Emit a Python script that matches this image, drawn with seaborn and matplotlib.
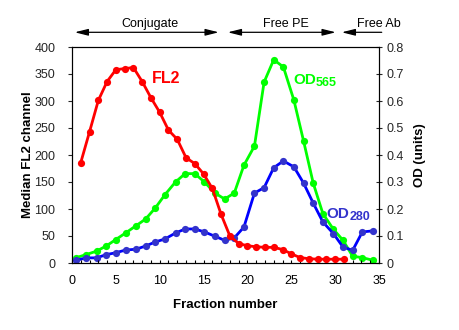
import matplotlib
matplotlib.use("Agg")
import matplotlib.pyplot as plt
import matplotlib.transforms as mtransforms
import seaborn as sns
import pandas as pd

# Flow cytometry signal (median FL2 channel) per collected fraction
fl2_fraction = [1, 2, 3, 4, 5, 6, 7, 8, 9, 10, 11, 12, 13, 14, 15, 16,
                17, 18, 19, 20, 21, 22, 23, 24, 25, 26, 27, 28, 29, 30, 31]
fl2_median = [186, 243, 301, 336, 358, 360, 362, 336, 306, 279, 246, 229,
              195, 184, 165, 138, 90, 50, 36, 32, 30, 29, 29, 25, 17, 10,
              8, 7, 7, 7, 7]

# Optical density readings (right axis)
od_fraction = [0.5, 1.6, 2.8, 3.9, 5.0, 6.1, 7.3, 8.4, 9.5, 10.6, 11.8,
               12.9, 14.0, 15.1, 16.3, 17.4, 18.5, 19.6, 20.8, 21.9, 23.0,
               24.1, 25.3, 26.4, 27.5, 28.6, 29.8, 30.9, 32.0, 33.1, 34.3]
od565 = [0.020, 0.031, 0.044, 0.063, 0.087, 0.111, 0.138, 0.163, 0.204,
         0.253, 0.300, 0.331, 0.331, 0.300, 0.259, 0.237, 0.259, 0.362,
         0.433, 0.670, 0.753, 0.726, 0.603, 0.452, 0.296, 0.183, 0.125,
         0.084, 0.025, 0.020, 0.010]
od280 = [0.010, 0.019, 0.019, 0.031, 0.038, 0.048, 0.051, 0.063, 0.078,
         0.089, 0.111, 0.126, 0.126, 0.115, 0.099, 0.084, 0.093, 0.133,
         0.259, 0.279, 0.353, 0.378, 0.356, 0.296, 0.222, 0.152, 0.109,
         0.059, 0.047, 0.115, 0.119]

left_ticks = [0, 50, 100, 150, 200, 250, 300, 350, 400]
right_ticks = [0, 0.1, 0.2, 0.3, 0.4, 0.5, 0.6, 0.7, 0.8]
right_tick_labels = ["0", "0.1", "0.2", "0.3", "0.4", "0.5", "0.6", "0.7", "0.8"]
x_ticks = [0, 5, 10, 15, 20, 25, 30, 35]

# Elution regions marked above the plot: (label, start, end)
regions = [("Conjugate", 0.31, 16.73), ("Free PE", 17.76, 30.07), ("Free Ab", 30.75, 35.31)]

sns.set_theme(style="white")
plt.rcParams["font.family"] = ["Liberation Sans", "DejaVu Sans"]

RED = "#FF0000"
GREEN = "#00FF00"
BLUE_LINE = "#0000FF"
BLUE_MARK = "#3333CC"

fig = plt.figure(figsize=(4.59, 3.3), dpi=100)
W, H = 459, 330
ax = fig.add_axes([72 / W, 67 / H, 307 / W, 216 / H])
ax2 = ax.twinx()

fl2_df = pd.DataFrame({"fraction": fl2_fraction, "fl2": fl2_median})
od_df = pd.DataFrame({"fraction": od_fraction, "od565": od565, "od280": od280})

line_kw = dict(marker="o", markersize=5.2, markeredgewidth=0, linewidth=2)
sns.lineplot(data=od_df, x="fraction", y="od565", ax=ax2, color=GREEN,
             markerfacecolor=GREEN, **line_kw)
sns.lineplot(data=od_df, x="fraction", y="od280", ax=ax2, color=BLUE_LINE,
             markerfacecolor=BLUE_MARK, **line_kw)
sns.lineplot(data=fl2_df, x="fraction", y="fl2", ax=ax, color=RED,
             markerfacecolor=RED, **line_kw)

# Keep the FL2 trace in front of the OD traces
ax.set_zorder(ax2.get_zorder() + 1)
ax.patch.set_visible(False)

ax.set_xlim(0, 35)
ax.set_ylim(0, 400)
ax2.set_ylim(0, 0.8)

ax.set_xticks(x_ticks)
ax.set_xticks(range(0, 36), minor=True)
ax.set_yticks(left_ticks)
ax2.set_yticks(right_ticks)
ax2.set_yticklabels(right_tick_labels)

tick_font = 9
ax.tick_params(axis="x", which="both", direction="in", length=2.5, width=0.8,
               labelsize=tick_font, pad=9, bottom=True, colors="black")
ax.tick_params(axis="y", which="both", direction="out", length=3, width=0.8,
               labelsize=tick_font, pad=9, left=True)
ax2.tick_params(axis="y", direction="inout", length=5, width=0.8,
                labelsize=tick_font, pad=3, right=True)

for a in (ax, ax2):
    for s in a.spines.values():
        s.set_color("black")
        s.set_linewidth(0.8)
    a.grid(False)

label_kw = dict(fontsize=9.5, fontweight="bold", color="black")
ax.set_xlabel("Fraction number", labelpad=8, **label_kw)
ax.set_ylabel("Median FL2 channel", labelpad=0, **label_kw)
ax2.set_ylabel("OD (units)", labelpad=7, **label_kw)

# Series labels
ax.text(9.05, 333, "FL2", color=RED, fontsize=11.5, fontweight="bold")
ax2.text(25.2, 0.662, "OD", color=GREEN, fontsize=11, fontweight="bold")
ax2.annotate("565", xy=(25.2, 0.662), xytext=(16.6, -1.5), textcoords="offset points",
             color=GREEN, fontsize=9, fontweight="bold")
ax2.text(29.0, 0.166, "OD", color=BLUE_MARK, fontsize=11, fontweight="bold")
ax2.annotate("280", xy=(29.0, 0.166), xytext=(16.6, -1.5), textcoords="offset points",
             color=BLUE_MARK, fontsize=9, fontweight="bold")

# Region arrows above the plot
trans = mtransforms.blended_transform_factory(ax.transData, fig.transFigure)
arrow_y = 1 - 32.3 / H
text_y = 1 - 26.7 / H
for name, x0, x1 in regions:
    style = "-|>" if name == "Free Ab" else "<|-|>"
    ax.annotate("", xy=(x0, arrow_y), xytext=(x1, arrow_y), xycoords=trans,
                textcoords=trans, annotation_clip=False,
                arrowprops=dict(arrowstyle=style + ",head_length=0.8,head_width=0.2",
                                color="black", lw=0.9, mutation_scale=10,
                                shrinkA=0, shrinkB=0))
for name, xc, ha in [("Conjugate", 8.83, "center"), ("Free PE", 24.34, "center"),
                     ("Free Ab", 32.54, "left")]:
    ax.text(xc, text_y, name, transform=trans, ha=ha, va="baseline",
            fontsize=9, color="black", clip_on=False)

fig.savefig("out.png", dpi=100)
